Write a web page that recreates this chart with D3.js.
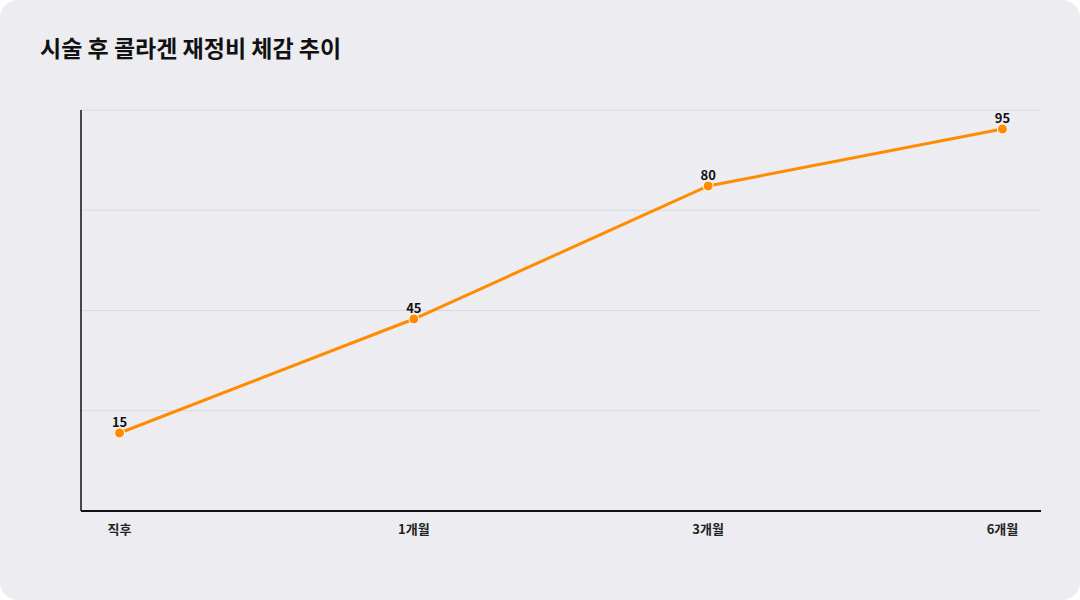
<!DOCTYPE html>
<html><head><meta charset="utf-8">
<script src="https://cdn.jsdelivr.net/npm/d3@7"></script>
<style>body{margin:0;background:#fff;font-family:"Noto Sans CJK KR","Noto Sans",sans-serif}</style>
</head><body><svg id="c" width="1080" height="600"></svg>
<script>
const categories=["직후","1개월","3개월","6개월"];
const values=[15,45,80,95];
const title="시술 후 콜라겐 재정비 체감 추이";
const svg=d3.select("#c");
svg.append("rect").attr("x",0).attr("y",0).attr("width",1080).attr("height",600).attr("rx",18).attr("fill","#ececf1");
svg.append("text").attr("x",40).attr("y",57).text(title).attr("font-size",23).attr("font-weight",700).attr("fill","#111");
const L=81,R=1041,T=110,B=511;
const x=d3.scalePoint().domain(categories).range([L,R]).padding(0.131);
const y=d3.scaleLinear().domain([-5.53,100]).range([B,T]);
const g=svg.append("g");
const d0=y.domain()[0],d1=y.domain()[1];
d3.range(0,4).map(i=>d1-(d1-d0)*i/4).forEach(v=>{
 g.append("line").attr("x1",L).attr("x2",R).attr("y1",y(v)).attr("y2",y(v)).attr("stroke","#d8d8de").attr("stroke-width",1);
});
g.append("line").attr("x1",L).attr("x2",L).attr("y1",T).attr("y2",B).attr("stroke","#111").attr("stroke-width",1.5);
g.append("line").attr("x1",L).attr("x2",R).attr("y1",B).attr("y2",B).attr("stroke","#111").attr("stroke-width",2);
categories.forEach(c=>g.append("text").attr("x",x(c)).attr("y",534).attr("text-anchor","middle").attr("font-size",13).attr("font-weight",700).attr("fill","#222").text(c));
const data=categories.map((c,i)=>({c,v:values[i]}));
g.append("path").datum(data).attr("fill","none").attr("stroke","#ff8c00").attr("stroke-width",3)
 .attr("d",d3.line().x(d=>x(d.c)).y(d=>y(d.v)));
g.selectAll("circle").data(data).join("circle").attr("cx",d=>x(d.c)).attr("cy",d=>y(d.v)).attr("r",5).attr("fill","#ff8c00").attr("stroke","#fff").attr("stroke-width",1);
g.selectAll(".lb").data(data).join("text").attr("x",d=>x(d.c)).attr("y",d=>y(d.v)-6).attr("text-anchor","middle").attr("font-size",13).attr("font-weight",700).attr("fill","#111").text(d=>d.v);
</script></body></html>
